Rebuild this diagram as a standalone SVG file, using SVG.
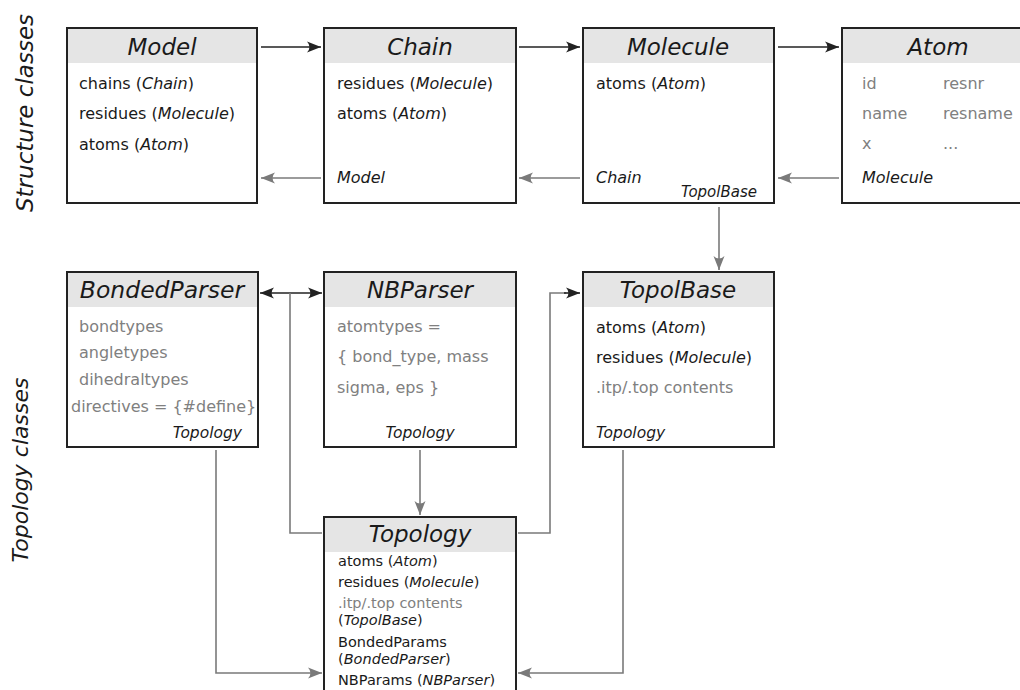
<svg xmlns="http://www.w3.org/2000/svg" width="1020" height="690" viewBox="0 0 1020 690">
<style>
text{font-family:"DejaVu Sans","Liberation Sans",sans-serif;fill:#1a1a1a}
.box{fill:#fff;stroke:#222;stroke-width:2}
.hdr{fill:#e5e5e5}
.title{font-size:23px;font-style:italic;text-anchor:middle}
.b{font-size:16px}
.s{font-size:14.5px}
.g{fill:#808080}
.i{font-style:italic}
.side{font-size:23px;font-style:italic;text-anchor:middle}
.cb{fill:none;stroke:#222;stroke-width:1.6}
.cg{fill:none;stroke:#7a7a7a;stroke-width:1.6}
</style>
<defs>
<marker id="ab" viewBox="-15 -7 17 14" refX="0" refY="0" markerWidth="17" markerHeight="14" markerUnits="userSpaceOnUse" orient="auto-start-reverse">
<path d="M0,0 L-14,-5.5 Q-9,0 -14,5.5 Z" fill="#222"/>
</marker>
<marker id="ag" viewBox="-15 -7 17 14" refX="0" refY="0" markerWidth="17" markerHeight="14" markerUnits="userSpaceOnUse" orient="auto-start-reverse">
<path d="M0,0 L-14,-5.5 Q-9,0 -14,5.5 Z" fill="#7a7a7a"/>
</marker>
</defs>
<rect width="1020" height="690" fill="#fff"/>
<text class="side" transform="translate(33,113) rotate(-90)">Structure classes</text>
<text class="side" style="font-size:22px" transform="translate(28,470) rotate(-90)">Topology classes</text>

<g id="connectors">
<path class="cb" d="M261,47 H321" marker-end="url(#ab)"/>
<path class="cb" d="M519,47 H580" marker-end="url(#ab)"/>
<path class="cb" d="M778,47 H839" marker-end="url(#ab)"/>
<path class="cg" d="M321,178 H261" marker-end="url(#ag)"/>
<path class="cg" d="M580,178 H519" marker-end="url(#ag)"/>
<path class="cg" d="M839,178 H778" marker-end="url(#ag)"/>
<path class="cg" d="M719,207 V270" marker-end="url(#ag)"/>
<path class="cb" d="M260,293 H322" marker-start="url(#ab)" marker-end="url(#ab)"/>
<path class="cg" d="M290,293 V533 H322"/>
<path class="cg" d="M518,533 H550 V293 H566"/>
<path class="cb" d="M564,293 H580" marker-end="url(#ab)"/>
<path class="cg" d="M420,450 V515" marker-end="url(#ag)"/>
<path class="cg" d="M216,450 V673 H322" marker-end="url(#ag)"/>
<path class="cg" d="M623,450 V673 H518" marker-end="url(#ag)"/>
</g>

<g id="model">
<rect class="box" x="67" y="28" width="190" height="175"/>
<rect class="hdr" x="68" y="29" width="188" height="34"/>
<text class="title" x="162" y="55">Model</text>
<text class="b" x="79" y="89">chains (<tspan class="i">Chain</tspan>)</text>
<text class="b" x="79" y="119">residues (<tspan class="i">Molecule</tspan>)</text>
<text class="b" x="79" y="150">atoms (<tspan class="i">Atom</tspan>)</text>
</g>

<g id="chain">
<rect class="box" x="324" y="28" width="192" height="175"/>
<rect class="hdr" x="325" y="29" width="190" height="34"/>
<text class="title" x="420" y="55">Chain</text>
<text class="b" x="337" y="89">residues (<tspan class="i">Molecule</tspan>)</text>
<text class="b" x="337" y="119">atoms (<tspan class="i">Atom</tspan>)</text>
<text class="b i" x="337" y="183">Model</text>
</g>

<g id="molecule">
<rect class="box" x="583" y="28" width="191" height="175"/>
<rect class="hdr" x="584" y="29" width="189" height="34"/>
<text class="title" x="678" y="55">Molecule</text>
<text class="b" x="596" y="89">atoms (<tspan class="i">Atom</tspan>)</text>
<text class="b i" x="596" y="183">Chain</text>
<text class="b i" x="757" y="197" style="font-size:15px" text-anchor="end">TopolBase</text>
</g>

<g id="atom">
<rect class="box" x="842" y="28" width="192" height="175"/>
<rect class="hdr" x="843" y="29" width="190" height="34"/>
<text class="title" x="938" y="55">Atom</text>
<text class="b g" x="862" y="89">id</text>
<text class="b g" x="943" y="89">resnr</text>
<text class="b g" x="862" y="119">name</text>
<text class="b g" x="943" y="119">resname</text>
<text class="b g" x="862" y="149">x</text>
<text class="b g" x="943" y="149">...</text>
<text class="b i" x="862" y="183">Molecule</text>
</g>

<g id="bondedparser">
<rect class="box" x="67" y="272" width="191" height="175"/>
<rect class="hdr" x="68" y="273" width="189" height="34"/>
<text class="title" x="162" y="298" style="font-size:23.5px">BondedParser</text>
<text class="b g" x="79" y="332">bondtypes</text>
<text class="b g" x="79" y="358">angletypes</text>
<text class="b g" x="79" y="385">dihedraltypes</text>
<text class="b g" x="71" y="412">directives = {#define}</text>
<text class="b i" x="242" y="438" style="font-size:15.5px" text-anchor="end">Topology</text>
</g>

<g id="nbparser">
<rect class="box" x="324" y="272" width="192" height="175"/>
<rect class="hdr" x="325" y="273" width="190" height="34"/>
<text class="title" x="420" y="298">NBParser</text>
<text class="b g" x="337" y="332">atomtypes =</text>
<text class="b g" x="337" y="362">{ bond_type, mass</text>
<text class="b g" x="337" y="393">sigma, eps }</text>
<text class="b i" x="420" y="438" style="font-size:15.5px" text-anchor="middle">Topology</text>
</g>

<g id="topolbase">
<rect class="box" x="583" y="272" width="191" height="175"/>
<rect class="hdr" x="584" y="273" width="189" height="34"/>
<text class="title" x="678" y="298">TopolBase</text>
<text class="b" x="596" y="333">atoms (<tspan class="i">Atom</tspan>)</text>
<text class="b" x="596" y="363">residues (<tspan class="i">Molecule</tspan>)</text>
<text class="b g" x="596" y="393">.itp/.top contents</text>
<text class="b i" x="596" y="438" style="font-size:15.5px">Topology</text>
</g>

<g id="topology">
<rect class="box" x="324" y="517" width="192" height="190"/>
<rect class="hdr" x="325" y="518" width="190" height="34"/>
<text class="title" x="420" y="542">Topology</text>
<text class="s" x="338" y="566">atoms (<tspan class="i">Atom</tspan>)</text>
<text class="s" x="338" y="587">residues (<tspan class="i">Molecule</tspan>)</text>
<text class="s g" x="338" y="608">.itp/.top contents</text>
<text class="s" x="338" y="625">(<tspan class="i">TopolBase</tspan>)</text>
<text class="s" x="338" y="647">BondedParams</text>
<text class="s" x="338" y="664">(<tspan class="i">BondedParser</tspan>)</text>
<text class="s" x="338" y="685">NBParams (<tspan class="i">NBParser</tspan>)</text>
</g>
</svg>
